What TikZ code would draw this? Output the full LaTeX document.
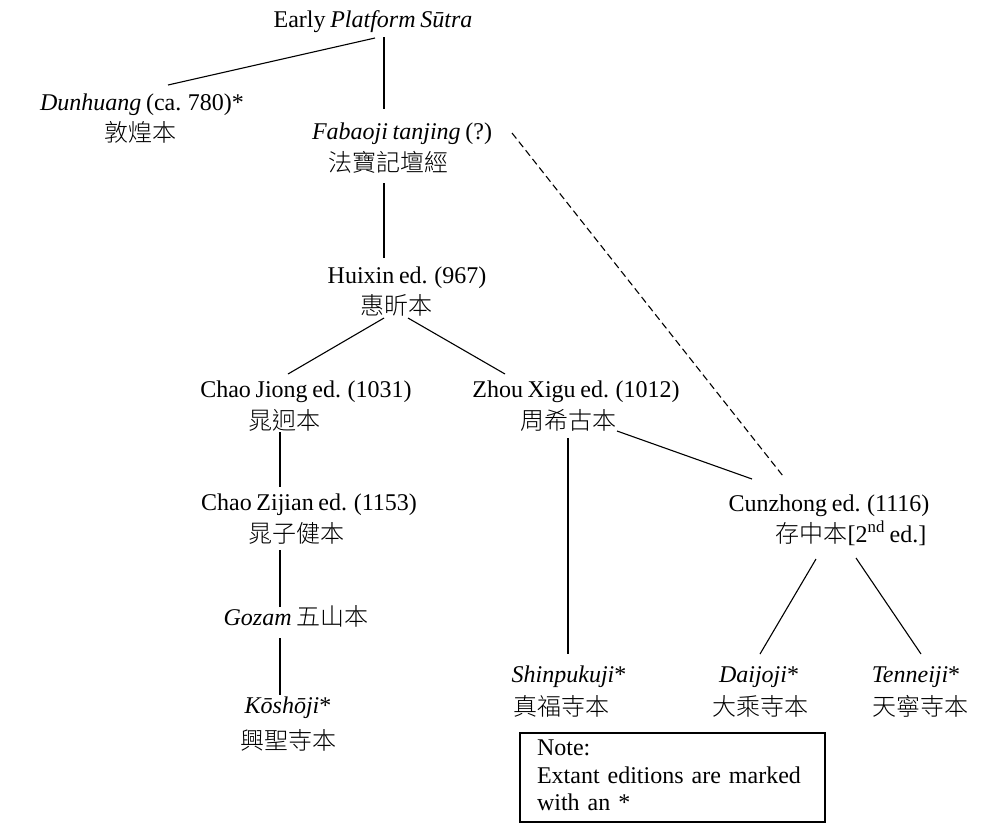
\documentclass[tikz,border=0pt]{standalone}
\usepackage{fontspec}
\setmainfont{Liberation Serif}[WordSpace=0.78]
\newfontfamily\cjkfont{Noto Sans CJK TC Light}
\usetikzlibrary{calc}
\begin{document}
\begin{tikzpicture}[x=1pt,y=-1pt,
  every node/.style={inner sep=0pt, outer sep=0pt, font=\fontsize{24}{30}\selectfont},
  lat/.style={anchor=base},
  han/.style={anchor=center, font=\fontsize{24}{30}\selectfont\cjkfont},
  link/.style={line width=1.1pt},
  dashlink/.style={link, dash pattern=on 7pt off 4pt},
  notebox/.style={draw, line width=1.1pt, anchor=north west, minimum width=305pt, minimum height=89pt,
    text width=271pt, align=left, inner xsep=17pt, font=\fontsize{24}{27.5}\selectfont}]
\useasboundingbox (0,0) rectangle (1000,836);

\node[lat] (early) at (373,27) {Early \textit{Platform Sūtra}};
\node[lat] (dun) at (142,110) {\textit{Dunhuang} (ca. 780)*};
\node[han] (dunc) at (140,132) {敦煌本};
\node[lat] (fab) at (402,139) {\textit{Fabaoji tanjing} (?)};
\node[han] (fabc) at (388,162) {法寶記壇經};
\node[lat] (hui) at (407,283) {Huixin ed. (967)};
\node[han] (huic) at (396,305) {惠昕本};
\node[lat] (cj) at (306,397) {Chao Jiong ed. (1031)};
\node[han] (cjc) at (284,420) {晁迥本};
\node[lat] (zh) at (576,397) {Zhou Xigu ed. (1012)};
\node[han] (zhc) at (568,420) {周希古本};
\node[lat] (cz) at (309,510) {Chao Zijian ed. (1153)};
\node[han] (czc) at (296,533) {晁子健本};
\node[lat] (cu) at (829,511) {Cunzhong ed. (1116)};
\node[lat] (cuc) at (851,542) {{\cjkfont 存中本}[2\textsuperscript{nd} ed.]};
\node[lat] (go) at (296,625) {\textit{Gozam} {\cjkfont 五山本}};
\node[lat] (ko) at (288,713) {\textit{Kōshōji}*};
\node[han] (koc) at (288,740) {興聖寺本};
\node[lat] (sh) at (569,682) {\textit{Shinpukuji}*};
\node[han] (shc) at (561,706) {真福寺本};
\node[lat] (da) at (759,682) {\textit{Daijoji}*};
\node[han] (dac) at (760,706) {大乘寺本};
\node[lat] (te) at (916,682) {\textit{Tenneiji}*};
\node[han] (tec) at (920,706) {天寧寺本};
\node[notebox] (note) at (520,733) {\begin{tabular}{@{}l@{}}Note:\\Extant editions are marked\\with an *\end{tabular}};

\draw[link] ($(early.base)+(2,11)$) -- ($(dun.base)+(26,-25)$);
\draw[link] ($(early.base)+(11,10)$) -- ($(fab.base)+(-18,-30)$);
\draw[link] ($(fabc.center)+(-4,21)$) -- ($(hui.base)+(-23,-25)$);
\draw[dashlink] ($(fab.base)+(110,-6)$) -- ($(cu.base)+(-46,-35)$);
\draw[link] ($(huic.center)+(-12,13)$) -- ($(cj.base)+(-18,-23)$);
\draw[link] ($(huic.center)+(12,13)$) -- ($(zh.base)+(-71,-23)$);
\draw[link] ($(cjc.center)+(-4,12)$) -- ($(cz.base)+(-29,-23)$);
\draw[link] ($(czc.center)+(-16,17)$) -- ($(go.base)+(-16,-18)$);
\draw[link] ($(go.base)+(-16,13)$) -- ($(ko.base)+(-8,-18)$);
\draw[link] ($(zhc.center)+(49,11)$) -- ($(cu.base)+(-77,-32)$);
\draw[link] ($(zhc.center)+(0,18)$) -- ($(sh.base)+(-1,-28)$);
\draw[link] ($(cuc.base)+(-35,17)$) -- ($(da.base)+(1,-28)$);
\draw[link] ($(cuc.base)+(5,16)$) -- ($(te.base)+(5,-28)$);
\end{tikzpicture}
\end{document}
